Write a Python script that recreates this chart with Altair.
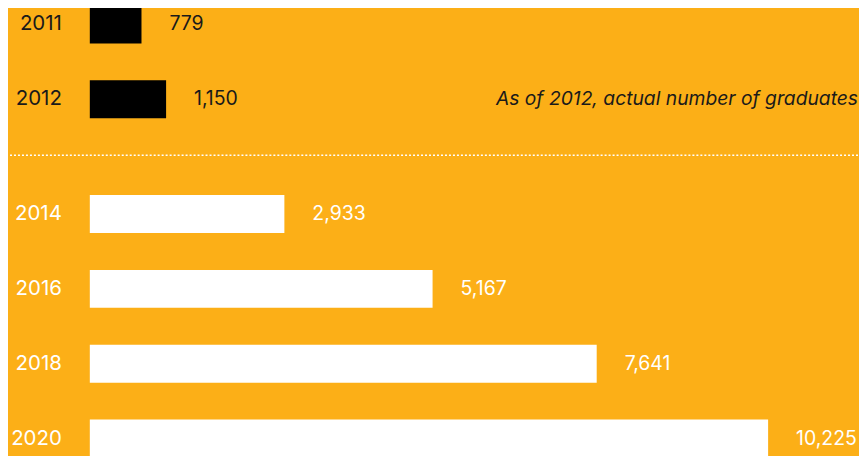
import altair as alt
import pandas as pd

actual_years = ["2011", "2012"]
actual_values = [779, 1150]
projected_years = ["2014", "2016", "2018", "2020"]
projected_values = [2933, 5167, 7641, 10225]
note_text = "As of 2012, actual number of graduates"

ORANGE = "#FCAF17"
FONT = "Inter"
W = 770

actual = pd.DataFrame({"year": actual_years, "grads": actual_values})
projected = pd.DataFrame({"year": projected_years, "grads": projected_values})
note = pd.DataFrame({"year": [actual_years[-1]], "note": [note_text]})


def panel(df, years, bar_color, text_color):
    xs = alt.X("grads:Q", scale=alt.Scale(domain=[0, 11580], nice=False), axis=None)
    ys = alt.Y("year:N", sort=years, axis=None,
               scale=alt.Scale(paddingInner=0.4933, paddingOuter=0))
    base = alt.Chart(df)
    bars = base.mark_bar(color=bar_color).encode(x=xs, y=ys)
    vals = base.mark_text(align="left", baseline="middle", dx=28, font=FONT,
                          fontSize=19.5, color=text_color).encode(
        x=xs, y=ys, text=alt.Text("grads:Q", format=","))
    yrs = base.mark_text(align="right", baseline="middle", font=FONT,
                         fontSize=20.5, color=text_color).encode(
        x=alt.value(-28), y=ys, text="year:N")
    return bars, vals, yrs, ys


b1, v1, y1, ys1 = panel(actual, actual_years, "#000000", "#1a1a1a")
annot = alt.Chart(note).mark_text(align="right", baseline="middle", font=FONT,
                                  fontSize=19.3, fontStyle="italic",
                                  color="#1a1a1a").encode(
    x=alt.value(W), y=ys1, text="note:N")
rule = alt.Chart(note).mark_rule(color="white", strokeWidth=1.6,
                                 strokeDash=[2, 2]).encode(
    x=alt.value(-80), x2=alt.value(W), y=alt.value(150))
top = alt.layer(b1, v1, y1, annot, rule).properties(width=W, height=alt.Step(75))

b2, v2, y2, _ = panel(projected, projected_years, "#ffffff", "#ffffff")
bottom = alt.layer(b2, v2, y2).properties(width=W, height=alt.Step(75))

chart = alt.vconcat(top, bottom, spacing=76, bounds="flush").properties(
    background=ORANGE,
    padding={"left": 1, "top": -3, "right": 0, "bottom": 0},
).configure_view(stroke=None)

chart.save("out.html", embed_options={"renderer": "svg", "actions": False})
